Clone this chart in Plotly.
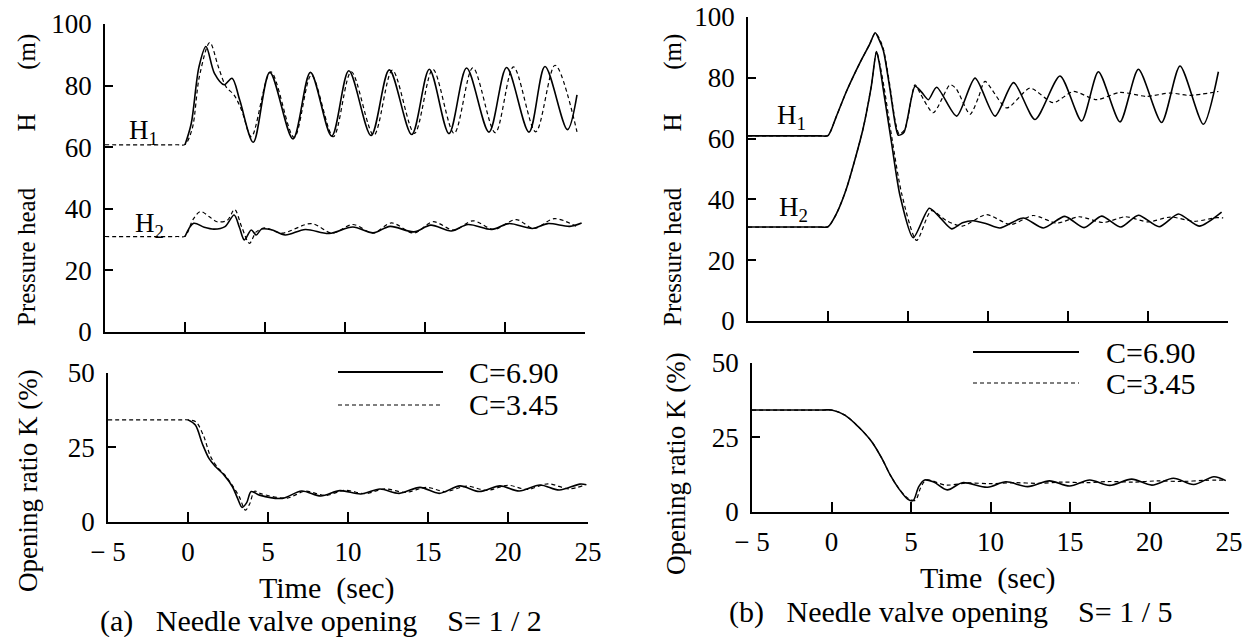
import plotly.graph_objects as go

W, H = 1255, 637
FONT = "Liberation Serif"

# ---------------- data: panel (a)  S = 1/2 ----------------
ta_h1_solid = [0.0, 0.39, 0.87, 1.31, 1.84, 2.45, 2.94, 3.42, 4.27, 5.3, 6.75, 7.84, 9.17, 10.24, 11.63, 12.77, 14.17, 15.27, 16.5, 17.6, 19.0, 20.1, 21.5, 22.5, 23.9, 24.5]
va_h1_solid = [60.8, 67.7, 86.0, 92.7, 84.0, 80.3, 82.4, 75.3, 61.6, 84.3, 62.7, 84.3, 63.6, 84.8, 63.8, 85.1, 64.1, 85.3, 64.4, 85.7, 64.9, 85.9, 64.9, 86.2, 65.7, 77.0]
ta_h1_dash = [-5.0, -0.5, 0.0, 0.45, 0.9, 1.55, 2.09, 2.57, 3.06, 3.54, 4.15, 5.36, 6.82, 7.9, 9.27, 10.39, 11.8, 12.96, 14.34, 15.49, 16.82, 17.99, 19.39, 20.53, 21.92, 23.13, 24.5]
va_h1_dash = [60.8, 60.8, 60.9, 66.0, 83.0, 94.0, 86.0, 79.6, 77.0, 72.0, 63.4, 84.5, 63.2, 83.4, 63.4, 84.5, 63.9, 85.0, 64.5, 85.3, 64.5, 85.8, 64.7, 86.1, 65.0, 86.6, 65.0]

ta_h2_solid = [0.0, 0.54, 1.2, 1.81, 2.5, 3.07, 3.4, 3.71, 4.14, 4.45, 4.78, 5.41, 6.26, 7.52, 9.01, 10.49, 11.76, 12.82, 14.31, 15.36, 16.64, 17.69, 19.18, 20.24, 21.72, 22.67, 24.05, 24.79]
va_h2_solid = [31.0, 35.3, 34.0, 33.4, 34.2, 38.0, 34.0, 29.9, 33.1, 31.5, 33.4, 33.2, 31.5, 33.3, 32.0, 34.1, 32.2, 34.3, 32.5, 34.7, 32.8, 34.9, 33.3, 35.2, 33.6, 35.2, 34.3, 35.4]
ta_h2_dash = [-5.0, -0.5, 0.0, 0.5, 0.96, 1.5, 2.0, 2.65, 3.1, 3.55, 4.03, 4.45, 5.0, 6.05, 7.9, 9.2, 10.49, 11.76, 12.9, 14.3, 15.5, 16.8, 18.0, 19.3, 20.7, 21.8, 23.1, 24.6]
va_h2_dash = [31.0, 31.0, 31.1, 36.5, 39.1, 37.5, 35.8, 36.3, 39.8, 34.0, 28.8, 32.5, 33.8, 32.1, 35.2, 32.1, 34.9, 32.1, 35.4, 32.1, 35.8, 33.1, 36.1, 33.3, 36.5, 33.6, 36.8, 33.9]

ta_k_solid = [0.0, 0.46, 0.89, 1.31, 1.73, 2.26, 2.78, 3.1, 3.38, 3.67, 3.95, 4.47, 5.9, 7.1, 8.3, 9.5, 10.8, 12.0, 13.2, 14.5, 15.7, 17.0, 18.2, 19.5, 20.7, 22.0, 23.2, 24.5, 24.9]
va_k_solid = [34.2, 32.5, 26.3, 21.3, 18.5, 15.7, 11.8, 7.9, 4.9, 6.5, 10.2, 9.0, 7.9, 10.4, 8.7, 10.5, 9.4, 11.05, 9.6, 11.6, 9.6, 12.1, 10.2, 12.1, 10.4, 12.4, 10.7, 12.7, 12.5]
ta_k_dash = [-5.0, -0.5, 0.0, 0.5, 0.99, 1.41, 1.85, 2.3, 2.8, 3.2, 3.59, 3.85, 4.16, 4.6, 6.2, 7.3, 8.6, 9.8, 11.1, 12.3, 13.6, 14.9, 16.1, 17.4, 18.7, 20.0, 21.2, 22.5, 23.8, 24.7]
va_k_dash = [34.2, 34.2, 34.2, 33.5, 28.6, 21.9, 18.3, 15.8, 12.0, 8.5, 4.0, 6.0, 10.3, 9.4, 8.0, 10.3, 8.9, 10.6, 9.5, 11.1, 9.9, 11.6, 10.2, 12.0, 10.6, 12.3, 10.9, 12.8, 11.1, 12.2]

# ---------------- data: panel (b)  S = 1/5 ----------------
tb_h1_solid = [-5.0, -0.5, 0.0, 0.5, 1.15, 2.0, 2.6, 2.95, 3.2, 3.46, 3.85, 4.23, 4.4, 4.74, 5.44, 5.85, 6.27, 6.79, 8.04, 9.19, 10.44, 11.6, 12.94, 14.5, 15.85, 16.9, 18.25, 19.4, 20.85, 22.0, 23.46, 24.4]
vb_h1_solid = [60.9, 60.9, 61.0, 67.0, 75.5, 85.0, 91.0, 94.8, 92.5, 89.0, 77.0, 64.0, 61.1, 62.0, 77.2, 75.3, 72.8, 76.9, 67.4, 79.9, 67.4, 78.4, 66.3, 80.6, 65.8, 82.0, 65.5, 82.8, 65.3, 83.9, 64.7, 82.0]
tb_h1_dash = [-5.0, -0.5, 0.0, 0.5, 1.15, 2.0, 2.6, 2.95, 3.2, 3.46, 3.85, 4.23, 4.45, 4.8, 5.44, 5.8, 6.58, 7.63, 8.0, 8.88, 9.4, 9.81, 11.17, 12.63, 14.08, 15.33, 16.79, 18.25, 19.9, 21.4, 22.6, 24.4]
vb_h1_dash = [60.9, 60.9, 61.0, 67.0, 75.5, 85.0, 91.0, 94.8, 93.0, 89.5, 78.0, 65.0, 61.5, 63.0, 77.7, 74.5, 68.5, 77.7, 76.5, 68.0, 73.5, 78.8, 70.1, 76.6, 71.8, 75.5, 72.8, 75.2, 73.9, 75.0, 74.2, 75.5]

tb_h2_solid = [-5.0, -0.5, 0.0, 0.5, 1.15, 2.18, 2.7, 3.03, 3.2, 3.46, 3.97, 4.5, 5.33, 6.33, 7.0, 7.73, 8.4, 9.08, 9.9, 10.75, 12.2, 13.46, 14.8, 16.0, 17.1, 18.3, 19.4, 20.7, 21.9, 23.2, 24.6]
vb_h2_solid = [30.9, 30.9, 31.0, 35.0, 43.5, 63.0, 77.0, 88.6, 85.0, 76.0, 58.7, 41.3, 27.4, 37.1, 34.0, 30.3, 32.3, 33.0, 32.0, 30.6, 33.9, 30.6, 34.4, 30.7, 34.5, 30.9, 34.8, 31.0, 35.2, 31.2, 35.8]
tb_h2_dash = [-5.0, -0.5, 0.0, 0.5, 1.15, 2.18, 2.7, 3.03, 3.2, 3.5, 4.0, 4.6, 5.54, 6.46, 7.4, 8.4, 9.9, 11.4, 12.83, 14.3, 15.7, 17.2, 18.6, 20.0, 21.4, 22.9, 24.3, 24.7]
vb_h2_dash = [30.9, 30.9, 31.0, 35.0, 43.5, 63.0, 77.0, 88.6, 85.5, 77.0, 60.0, 42.0, 26.5, 36.3, 33.0, 31.2, 35.0, 31.7, 34.7, 32.2, 34.3, 32.4, 34.3, 32.6, 34.2, 32.8, 34.0, 33.9]

tb_k_solid = [-5.0, -0.5, 0.0, 0.84, 1.69, 2.53, 3.16, 3.69, 4.22, 4.81, 5.13, 5.49, 5.86, 6.43, 7.28, 8.23, 9.81, 10.97, 12.34, 13.71, 14.98, 16.24, 17.5, 18.88, 20.15, 21.5, 22.78, 24.05, 24.8]
vb_k_solid = [34.1, 34.1, 34.1, 32.4, 28.5, 23.5, 18.0, 12.4, 7.9, 4.2, 3.8, 8.5, 10.7, 10.0, 7.4, 9.8, 8.3, 10.1, 8.5, 10.4, 8.7, 10.7, 8.9, 11.0, 9.0, 11.3, 9.2, 11.8, 10.5]
tb_k_dash = [-5.0, -0.5, 0.0, 0.84, 1.69, 2.53, 3.16, 3.69, 4.22, 4.81, 5.27, 5.6, 5.95, 7.2, 8.5, 10.0, 11.5, 13.0, 14.5, 16.0, 17.5, 19.0, 20.5, 22.0, 23.5, 24.8]
vb_k_dash = [34.1, 34.1, 34.1, 32.4, 28.5, 23.5, 18.0, 12.4, 8.0, 4.6, 3.9, 8.0, 10.7, 9.0, 9.7, 9.5, 9.8, 9.6, 10.0, 9.8, 10.2, 10.0, 10.4, 10.2, 10.6, 10.7]

# ---------------- ticks / labels ----------------
x_ticks = [-5, 0, 5, 10, 15, 20, 25]
x_ticktext = ["\u2212 5", "0", "5", "10", "15", "20", "25"]
h_ticks = [0, 20, 40, 60, 80, 100]
k_ticks = [0, 25, 50]
legend_labels = ["C=6.90", "C=3.45"]

# ---------------- layout geometry (pixels) ----------------
def xdom(l, r):
    return [l / W, r / W]

def ydom(bottom, top):
    return [1 - bottom / H, 1 - top / H]

fig = go.Figure()

SOLID = dict(color="black", width=1.6)
DASH = dict(color="black", width=1.2, dash="4px,3px")

def add(t, v, xa, ya, style, smooth=0.9):
    fig.add_trace(go.Scatter(x=t, y=v, mode="lines", line=dict(**style, shape="spline", smoothing=smooth),
                             xaxis=xa, yaxis=ya, showlegend=False, hoverinfo="skip"))

# panel (a)
add(ta_h1_dash, va_h1_dash, "x", "y", DASH)
add(ta_h1_solid, va_h1_solid, "x", "y", SOLID)
add(ta_h2_dash, va_h2_dash, "x", "y", DASH)
add(ta_h2_solid, va_h2_solid, "x", "y", SOLID)
add(ta_k_dash, va_k_dash, "x2", "y2", DASH)
add(ta_k_solid, va_k_solid, "x2", "y2", SOLID)
# panel (b)
add(tb_h1_dash, vb_h1_dash, "x3", "y3", DASH, 0.7)
add(tb_h1_solid, vb_h1_solid, "x3", "y3", SOLID, 0.7)
add(tb_h2_dash, vb_h2_dash, "x3", "y3", DASH, 0.7)
add(tb_h2_solid, vb_h2_solid, "x3", "y3", SOLID, 0.7)
add(tb_k_dash, vb_k_dash, "x4", "y4", DASH)
add(tb_k_solid, vb_k_solid, "x4", "y4", SOLID)

common = dict(showline=True, linecolor="black", linewidth=1.5, showgrid=False, zeroline=False,
              ticks="inside", tickcolor="black", tickwidth=1.5, automargin=False,
              ticklabeloverflow="allow")

def xaxis(dom, anchor, labels):
    d = dict(common, domain=dom, anchor=anchor, range=[-5, 25], ticklen=10,
             tickfont=dict(family=FONT, size=27, color="black"))
    if labels:
        d.update(tickvals=x_ticks, ticktext=x_ticktext, showticklabels=True, ticklabelstandoff=5)
    else:
        d.update(tickvals=x_ticks[1:], showticklabels=False)
    return d

def yaxis(dom, anchor, rng, vals):
    return dict(common, domain=dom, anchor=anchor, range=rng, tickvals=vals, ticklen=8,
                ticklabelstandoff=6, tickfont=dict(family=FONT, size=27, color="black"))

fig.update_layout(
    template="none",
    width=W, height=H, autosize=False,
    margin=dict(l=0, r=0, t=0, b=0, pad=0),
    paper_bgcolor="white", plot_bgcolor="white",
    xaxis=xaxis(xdom(105, 585), "y", False),
    yaxis=yaxis(ydom(332, 24), "x", [0, 100], h_ticks),
    xaxis2=xaxis(xdom(108, 588), "y2", True),
    yaxis2=yaxis(ydom(522, 372.7), "x2", [0, 50], k_ticks),
    xaxis3=xaxis(xdom(748, 1228), "y3", False),
    yaxis3=yaxis(ydom(321, 17), "x3", [0, 100], h_ticks),
    xaxis4=xaxis(xdom(752, 1229), "y4", True),
    yaxis4=yaxis(ydom(512, 362.5), "x4", [0, 50], k_ticks),
)

def text(s, px, py, size, angle=0, xanchor="center"):
    fig.add_annotation(text=s, x=px / W, y=1 - py / H, xref="paper", yref="paper",
                       showarrow=False, textangle=angle, xanchor=xanchor, yanchor="middle",
                       font=dict(family=FONT, size=size, color="black"))

sp = "\u00a0"
ytitle_h = "Pressure head" + sp * 9 + "H" + sp * 7 + "(m)"
ytitle_k = "Opening ratio K (%)"

text(ytitle_h, 27, 180, 25, -90)
text(ytitle_k, 28, 481, 27, -90)
text(ytitle_h, 673, 180, 25, -90)
text(ytitle_k, 676, 464, 27, -90)

text("H<sub>1</sub>", 127, 132, 27, xanchor="left")
text("H<sub>2</sub>", 133, 225, 27, xanchor="left")
text("H<sub>1</sub>", 775, 117, 27, xanchor="left")
text("H<sub>2</sub>", 777, 209, 27, xanchor="left")

text("Time" + sp * 2 + "(sec)", 327, 588, 30)
text("Time" + sp * 2 + "(sec)", 988, 578, 30)
text("(a)" + sp * 3 + "Needle valve opening" + sp * 4 + "S=" + sp + "1" + sp + "/" + sp + "2", 321, 621, 30)
text("(b)" + sp * 3 + "Needle valve opening" + sp * 4 + "S=" + sp + "1" + sp + "/" + sp + "5", 950, 612, 30)

# legends (sample lines + labels)
def legend(x0, x1, y_solid, y_dash, tx):
    fig.add_shape(type="line", x0=x0 / W, x1=x1 / W, y0=1 - y_solid / H, y1=1 - y_solid / H,
                  xref="paper", yref="paper", line=dict(color="black", width=2))
    fig.add_shape(type="line", x0=x0 / W, x1=x1 / W, y0=1 - y_dash / H, y1=1 - y_dash / H,
                  xref="paper", yref="paper", line=dict(color="black", width=1.2, dash="4px,3px"))
    text(legend_labels[0], tx, y_solid, 30, xanchor="left")
    text(legend_labels[1], tx, y_dash, 30, xanchor="left")

legend(338, 443, 372, 405, 467)
legend(973, 1079, 352, 383, 1104)

fig.write_html("out.html", config={"displayModeBar": False},
               post_script="document.body.style.margin='0';document.body.style.overflow='hidden';")
